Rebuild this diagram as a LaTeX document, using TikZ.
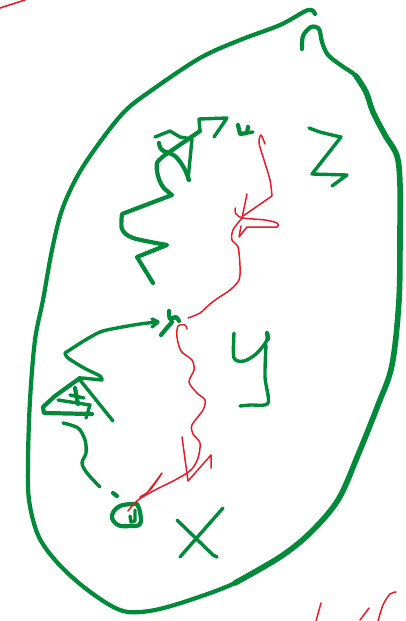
\documentclass[tikz,border=0pt]{standalone}
\definecolor{inkgreen}{RGB}{0,138,58}
\definecolor{inkred}{RGB}{232,28,40}
\tikzset{
  gthick/.style={draw=inkgreen,line width=4.2pt,line cap=round,line join=round},
  gmid/.style={draw=inkgreen,line width=3.4pt,line cap=round,line join=round},
  rthin/.style={draw=inkred,line width=1.5pt,line cap=round,line join=round},
}
\begin{document}
\begin{tikzpicture}[x=1pt,y=-1pt]
\useasboundingbox (0,0) rectangle (405,621);
% big outline
\draw[gthick] plot[smooth,tension=0.55] coordinates {
 (302,49) (303,36) (311,27) (319,29) (322,42) (328,55) (342,66) (356,76) (366,92) (373,112)
 (385,135) (397,156) (400,185) (400,230) (399,300) (392,365) (378,405) (358,455) (338,500)
 (310,533) (280,557) (235,583) (190,600) (155,610) (128,612) (108,604) (80,584) (55,560)
 (38,535) (29,500) (28,460) (30,400) (35,340) (43,300) (52,250) (62,210) (78,175) (100,142)
 (125,111) (152,90) (200,58) (240,40) (280,25) (308,10) (315,14)};
% heavier right-hand side of the outline
\draw[gthick,line width=5.6pt] plot[smooth,tension=0.55] coordinates {
 (356,76) (366,92) (373,112) (385,135) (397,156) (400,185) (400,230) (399,300) (392,365)
 (378,405) (358,455) (338,500) (310,533) (280,557) (235,583)};
% top-left red tick
\draw[rthin,line width=1.6pt] (0,8) -- (25,0);
% Z
\draw[gmid] plot[smooth,tension=0.4] coordinates {(309,128) (320,132) (332,135) (341,137)}
  -- (312,174) -- (347,175) -- (332,186);
% y
\draw[gmid] plot[smooth,tension=0.5] coordinates {(234,333) (234,358) (244,361) (256,354) (266,342) (268,334)};
\draw[gthick] (267,333) -- (268,339);
\draw[gmid] plot[smooth,tension=0.5] coordinates {(266,345) (265,377) (268,403) (250,405) (240,406)};
% X
\draw[gmid] (177,520) -- (213,555) -- (217,557);
\draw[gmid] (223,508) -- (180,557);
% upper tangled node
\draw[gthick] plot[smooth,tension=0.4] coordinates {(153,283) (137,257)} -- (167,245)
  -- plot[smooth,tension=0.5] coordinates {(167,245) (133,238) (122,229) (122,214)} -- (172,195)
  -- plot[smooth,tension=0.5] coordinates {(172,195) (163,187) (158,176) (157,163) (165,155)} -- (200,131);
\draw[gmid] (200,131) -- (199,119) -- (227,118) -- (214,137);
\draw[gmid] (155,137) -- (170,131) -- (180,137) -- (192,139) -- (188,180);
\draw[gthick] plot[smooth,tension=0.6] coordinates {(159,143) (162,150) (175,156) (184,168) (189,180)};
\draw[gthick] (238,125) -- (240,134) -- (247,133) -- (248,127);
\draw[gmid] (247,133) -- (253,132);
% middle node
\draw[gthick] plot[smooth,tension=0.5] coordinates {(169,311) (170,319) (176,317) (179,321)};
\draw[gthick] plot[smooth,tension=0.5] coordinates {(172,322) (166,329) (161,335)};
% green arrow into middle node and left squiggle down to bottom node
\draw[gmid] plot[smooth,tension=0.5] coordinates {(157,322) (140,324) (117,328) (100,332) (82,342)}
  -- (65,353) -- plot[smooth,tension=0.5] coordinates {(65,353) (68,358) (84,368) (100,376) (102,380)} -- (82,378);
\draw[gmid] (152,319) -- (158,322) -- (152,327);
\draw[gthick] (80,378) -- (55,396) -- (43,407) -- (44,413) -- (92,414);
\draw[gmid] (80,380) -- (113,421);
\draw[gmid] (58,400) -- (90,405) -- (86,418);
\draw[gthick] (75,388) -- (78,404);
\draw[gmid] (70,395) -- (84,398);
\draw[gmid] plot[smooth,tension=0.55] coordinates {(63,423) (78,428) (85,440) (86,453) (82,463) (87,473) (100,487)};
\draw[gthick] (113,493) -- (117,496);
% bottom node
\draw[gthick] plot[smooth,tension=0.7] coordinates {(137,504) (120,506) (112,516) (118,525) (130,526) (140,524) (140,512) (137,504)};
\draw[gmid] (130,516) -- (131,522) -- (135,521) -- (135,510);
% red upper connector
\draw[rthin] plot[smooth,tension=0.5] coordinates {(265,144) (261,135) (259,143) (264,160) (270,180) (272,196)} -- (243,216);
\draw[rthin] (247,194) -- (242,218);
\draw[rthin] plot[smooth,tension=0.5] coordinates {(235,208) (236,214) (243,218) (265,220) (277,223) (277,227) (260,227) (247,227)} -- (239,237) -- (241,226);
\draw[rthin] plot[smooth,tension=0.5] coordinates {(242,218) (233,230) (232,240) (238,247) (240,266) (239,280) (230,290) (218,298) (210,304) (200,313) (188,318)};
% red lower connector
\draw[rthin] plot[smooth,tension=0.5] coordinates {(187,329) (185,325) (178,326) (177,337) (181,351) (192,360) (194,370) (189,382) (197,393) (205,400) (203,410) (192,425) (193,434) (200,443) (198,458) (191,470) (175,480) (155,490) (138,500) (128,511)};
\draw[rthin] (182,437) -- (188,481) -- (211,455) -- (211,468);
\draw[rthin] plot[smooth,tension=0.6] coordinates {(162,473) (150,490) (140,497) (146,494) (162,473)};
% bottom-right red marks
\draw[rthin] (321,603) -- (316,621);
\draw[rthin] (369,608) -- (360,620);
\draw[rthin] plot[smooth,tension=0.5] coordinates {(396,592) (390,594) (383,605) (378,621)};
\end{tikzpicture}
\end{document}
